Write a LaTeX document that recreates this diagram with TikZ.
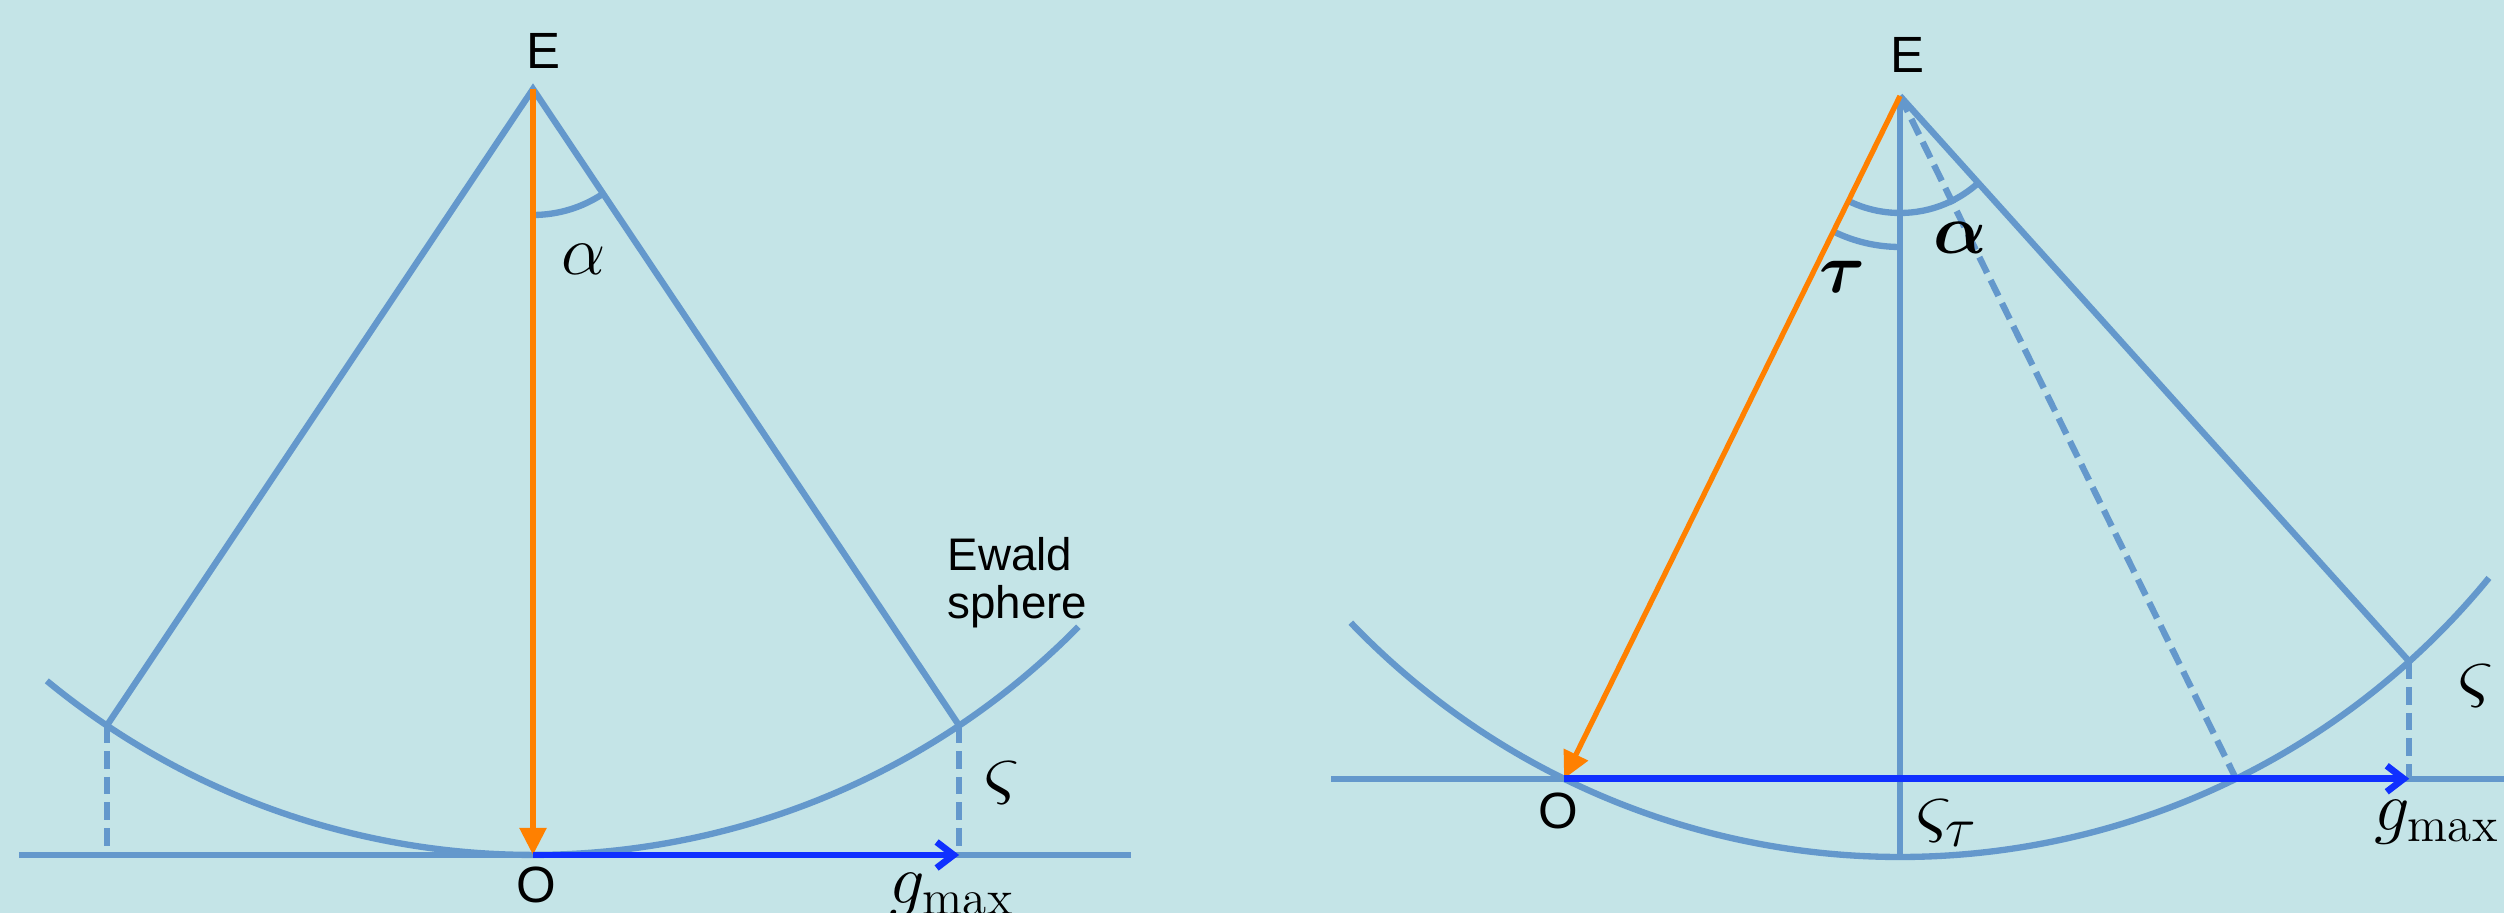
\RequirePackage{fix-cm}
\documentclass[tikz,border=0pt]{standalone}
\usepackage{amsmath}
\usepackage{fontspec}
\setsansfont{Liberation Sans}
\usepackage{bm}
\usetikzlibrary{arrows.meta}
\definecolor{bgcyan}{RGB}{196,228,231}
\definecolor{sphereblue}{RGB}{100,152,204}
\definecolor{beamorange}{RGB}{255,128,0}
\definecolor{gblue}{RGB}{16,48,255}

\begin{document}
\begin{tikzpicture}[
        ewald/.style={draw=sphereblue, line width=1.8pt},
        proj/.style={ewald, dash pattern=on 5pt off 2.3pt},
        beam/.style={draw=beamorange, line width=1.5pt, -{Triangle[length=0.27cm, width=0.26cm]}},
        gvec/.style={draw=gblue, line width=1.9pt, -{Straight Barb[length=0.17cm, width=0.26cm]}},
        txt/.style={inner sep=0pt, font=\fontsize{14.5}{14.5}\selectfont\sffamily},
        sym/.style={inner sep=0pt, font=\fontsize{20}{24}\selectfont},
        bigsym/.style={inner sep=0pt, font=\fontsize{23}{27}\selectfont}]
                \useasboundingbox (0,0) rectangle (25.04,9.13);
                \fill[bgcyan] (0,0) rectangle (25.04,9.13);
                \clip (0,0) rectangle (25.04,9.13);
                \coordinate (E1) at (5.33,8.24);
                \coordinate (O1) at (5.33,0.58);
                \coordinate (L1) at (0.19,0.58);
                \coordinate (R1) at (11.31,0.58);
                \path (E1) ++(236.2:7.66) coordinate (B1);
                \path (E1) ++(303.8:7.66) coordinate (A1);
                \coordinate (H1) at (B1 |- O1);
                \coordinate (G1) at (A1 |- O1);
                \draw[ewald] (E1) ++(230.6:7.66) arc[start angle=230.6, end angle=315.4, radius=7.66];
                \draw[ewald] (L1) -- (R1);
                \draw[ewald] (B1) -- (E1) -- (A1);
                \draw[proj] (B1) -- (H1);
                \draw[proj] (A1) -- (G1);
                \draw[ewald] (E1) ++(270:1.26) arc[start angle=270, end angle=303.8, radius=1.26];
                \draw[beam] (E1) -- (O1);
                \draw[gvec] (O1) -- (G1);
                \node[txt] (e1lbl) at (5.43,8.62) {E};
                \node[txt] (o1lbl) at (5.365,0.28) {O};
                \node[sym] (alpha1) at (5.835,6.54) {$\alpha$};
                \node[bigsym] (zeta1) at (10.02,1.30) {$\varsigma$};
                \node[sym, anchor=north] (gmax1) at (9.52,0.40) {$g_{\max}$};
                \node[txt, font=\fontsize{13}{13.5}\selectfont\sffamily, anchor=north west, align=left] (ewaldlbl) at (9.47,3.76) {Ewald\\sphere};
                \coordinate (E2) at (19.0,8.17);
                \coordinate (L2) at (13.31,1.34);
                \coordinate (R2) at (25.04,1.34);
                \path (E2) ++(243.8:7.61) coordinate (O2);
                \path (E2) ++(296.2:7.61) coordinate (D2);
                \path (E2) ++(312:7.61) coordinate (A2);
                \path (E2) ++(270:7.61) coordinate (S2);
                \coordinate (G2) at (A2 |- O2);
                \draw[ewald] (E2) ++(223.8:7.61) arc[start angle=223.8, end angle=320.7, radius=7.61];
                \draw[ewald] (L2) -- (R2);
                \draw[ewald] (E2) -- (S2);
                \draw[ewald] (E2) -- (A2);
                \draw[proj] (E2) -- (D2);
                \draw[proj] (A2) -- (G2);
                \draw[ewald] (E2) ++(243.8:1.17) arc[start angle=243.8, end angle=312, radius=1.17];
                \draw[ewald] (E2) ++(243.8:1.51) arc[start angle=243.8, end angle=270, radius=1.51];
                \draw[beam] (E2) -- (O2);
                \draw[gvec] (O2) -- (G2);
                \node[txt] (e2lbl) at (19.07,8.58) {E};
                \node[txt] (o2lbl) at (15.585,1.025) {O};
                \node[sym] (alpha2) at (19.60,6.75) {$\bm{\alpha}$};
                \node[sym] (tau2) at (18.43,6.36) {$\bm{\tau}$};
                \node[bigsym] (zeta2) at (24.765,2.27) {$\varsigma$};
                \node[bigsym] (zetatau) at (19.47,0.90) {$\varsigma_\tau$};
                \node[sym, anchor=north] (gmax2) at (24.37,1.13) {$g_{\max}$};
              \end{tikzpicture}
\end{document}
